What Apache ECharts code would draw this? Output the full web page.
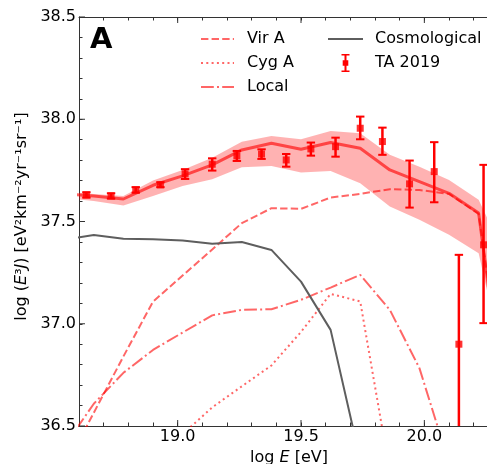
<!DOCTYPE html>
<html>
<head>
<meta charset="utf-8">
<script src="https://cdn.jsdelivr.net/npm/echarts@6/dist/echarts.min.js"></script>
<style>
html,body{margin:0;padding:0;background:#fff;}
#chart{width:487px;height:464px;}
</style>
</head>
<body>
<div id="chart"></div>
<script>
// ---- data ----
const xModel      = [18.54, 18.66, 18.78, 18.90, 19.02, 19.14, 19.26, 19.38, 19.50, 19.62, 19.74, 19.86, 19.98, 20.10, 20.22, 20.34];
const totalModel  = [37.635, 37.625, 37.610, 37.677, 37.723, 37.777, 37.850, 37.883, 37.853, 37.886, 37.858, 37.752, 37.695, 37.638, 37.541, 36.45];
const bandUpper   = [37.645, 37.635, 37.625, 37.700, 37.752, 37.812, 37.890, 37.918, 37.902, 37.943, 37.931, 37.826, 37.768, 37.703, 37.606, 37.30];
const bandLower   = [37.615, 37.600, 37.578, 37.625, 37.674, 37.706, 37.765, 37.772, 37.739, 37.747, 37.687, 37.573, 37.508, 37.435, 37.345, 36.70];
const virA        = [36.29, 36.565, 36.840, 37.108, 37.236, 37.363, 37.492, 37.565, 37.562, 37.617, 37.635, 37.658, 37.654, 37.635, 37.537, 36.50];
const cygA        = [null, null, null, null, 36.46, 36.591, 36.694, 36.796, 36.960, 37.146, 37.109, 36.276, null, null, null, null];
const localSrc    = [36.40, 36.609, 36.760, 36.872, 36.957, 37.041, 37.068, 37.071, 37.117, 37.177, 37.239, 37.068, 36.783, 36.318, null, null];
const cosmo       = [37.412, 37.434, 37.416, 37.413, 37.407, 37.391, 37.400, 37.361, 37.206, 36.970, 36.336, null, null, null, null, null];

const taX    = [18.63, 18.73, 18.83, 18.93, 19.03, 19.14, 19.24, 19.34, 19.44, 19.54, 19.64, 19.74, 19.83, 19.94, 20.04, 20.14, 20.24];
const taY    = [37.630, 37.625, 37.654, 37.679, 37.733, 37.780, 37.821, 37.830, 37.801, 37.855, 37.866, 37.956, 37.891, 37.684, 37.744, 36.900, 37.386];
const taLow  = [37.617, 37.612, 37.641, 37.668, 37.708, 37.749, 37.796, 37.806, 37.768, 37.822, 37.817, 37.902, 37.826, 37.568, 37.594, 36.460, 37.003];
const taHigh = [37.643, 37.638, 37.668, 37.692, 37.756, 37.809, 37.845, 37.853, 37.830, 37.886, 37.910, 38.013, 37.959, 37.798, 37.888, 37.337, 37.777];

const xMajorTicks = [19.0, 19.5, 20.0];
const yMajorTicks = [36.5, 37.0, 37.5, 38.0, 38.5];

const xMin = 18.6, xMax = 20.258, yMin = 36.5, yMax = 38.5;
const FONT = 'DejaVu Sans';

function pairs(xs, ys) {
  const out = [];
  for (let i = 0; i < xs.length; i++) if (ys[i] !== null) out.push([xs[i], ys[i]]);
  return out;
}
function isMajor(v) { return Math.abs(v * 2 - Math.round(v * 2)) < 1e-6; }

const chart = echarts.init(document.getElementById('chart'), null, {renderer: 'canvas'});

const axisLine = {show: true, lineStyle: {color: '#333', width: 1}};
const minorTick = {show: true, inside: true, length: 3.5, lineStyle: {color: '#333', width: 1}};
const taIcon = 'path://M0,0h8v1.6h-8z M3,0h2v18h-2z M0,16.4h8v1.6h-8z M1.2,6.2h5.6v5.6h-5.6z';

const option = {
  animation: false,
  backgroundColor: '#fff',
  textStyle: {fontFamily: FONT},
  grid: {left: 79, right: -1, top: 17, bottom: 38, containLabel: false, outerBoundsMode: 'none'},
  xAxis: [{
    type: 'value', min: xMin, max: xMax, interval: 0.1, position: 'bottom',
    axisLine: axisLine, axisTick: minorTick, splitLine: {show: false},
    axisLabel: {margin: 3, fontSize: 16, color: '#000', fontFamily: FONT,
      showMaxLabel: false,
      formatter: v => isMajor(v) && v > 18.9 && v < 20.2 ? v.toFixed(1) : ''},
    name: '{n|log }{i|E}{n| [eV]}', nameLocation: 'middle', nameGap: 18,
    nameTextStyle: {padding: [0, 0, 0, 11], rich: {
      n: {fontSize: 16, fontFamily: FONT, color: '#000'},
      i: {fontSize: 16, fontFamily: FONT, fontStyle: 'italic', color: '#000'}}}
  }, {
    type: 'value', min: xMin, max: xMax, interval: 0.1, position: 'top',
    axisLine: axisLine, axisTick: minorTick, splitLine: {show: false},
    axisLabel: {show: false}
  }],
  yAxis: [{
    type: 'value', min: yMin, max: yMax, interval: 0.1, position: 'left',
    axisLine: axisLine, axisTick: minorTick, splitLine: {show: false},
    axisLabel: {margin: 3, fontSize: 16, color: '#000', fontFamily: FONT,
      formatter: v => isMajor(v) ? v.toFixed(1) : ''},
    name: '{n|log (}{i|E}{n|³}{i|J}{n|) [eV²km⁻²yr⁻¹sr⁻¹]}', nameLocation: 'middle', nameGap: 31,
    nameTextStyle: {padding: [0, 0, 0, 10], rich: {
      n: {fontSize: 16, fontFamily: FONT, color: '#000'},
      i: {fontSize: 16, fontFamily: FONT, fontStyle: 'italic', color: '#000'}}}
  }],
  legend: [{
    data: ['Vir A', 'Cyg A', 'Local'],
    orient: 'vertical', left: 200, top: 30, padding: 0,
    itemWidth: 33, itemHeight: 18, itemGap: 6,
    itemStyle: {opacity: 0},
    textStyle: {fontSize: 16, fontFamily: FONT, color: '#000', lineHeight: 18, padding: [0, 0, 0, 8]},
    selectedMode: false
  }, {
    data: ['Cosmological', {name: 'TA 2019', icon: taIcon, itemStyle: {opacity: 1, color: '#ff0000'}}],
    orient: 'vertical', left: 327, top: 30, padding: 0,
    itemWidth: 35, itemHeight: 18, itemGap: 6,
    itemStyle: {opacity: 0},
    textStyle: {fontSize: 16, fontFamily: FONT, color: '#000', lineHeight: 18, padding: [0, 0, 0, 7]},
    selectedMode: false
  }],
  graphic: [{
    type: 'text', left: 90, top: 26,
    style: {text: 'A', font: 'bold 29px "DejaVu Sans"', fill: '#000'}
  }],
  series: [
    {
      name: 'band', type: 'custom', clip: true, silent: true, z: 1,
      data: xModel.map((x, i) => [x, bandLower[i], bandUpper[i]]),
      encode: {x: 0, y: [1, 2]},
      renderItem: function (params, api) {
        if (params.dataIndex !== 0) return null;
        const pts = [];
        for (let i = 0; i < xModel.length; i++) pts.push(api.coord([xModel[i], bandUpper[i]]));
        for (let i = xModel.length - 1; i >= 0; i--) pts.push(api.coord([xModel[i], bandLower[i]]));
        return {type: 'polygon', shape: {points: pts}, style: {fill: 'rgba(255,0,0,0.3)'}};
      }
    },
    {
      name: 'Total', type: 'line', symbol: 'none', clip: true, z: 2,
      data: pairs(xModel, totalModel),
      lineStyle: {color: 'rgba(255,0,0,0.62)', width: 3}
    },
    {
      name: 'Vir A', type: 'line', symbol: 'none', clip: true, z: 3,
      data: pairs(xModel, virA),
      itemStyle: {color: 'rgba(255,0,0,0.6)'},
      lineStyle: {color: 'rgba(255,0,0,0.6)', width: 2, type: [7.4, 3.2]}
    },
    {
      name: 'Cyg A', type: 'line', symbol: 'none', clip: true, z: 3,
      data: pairs(xModel, cygA),
      itemStyle: {color: 'rgba(255,0,0,0.6)'},
      lineStyle: {color: 'rgba(255,0,0,0.6)', width: 2, type: [2, 3.3]}
    },
    {
      name: 'Local', type: 'line', symbol: 'none', clip: true, z: 3,
      data: pairs(xModel, localSrc),
      itemStyle: {color: 'rgba(255,0,0,0.6)'},
      lineStyle: {color: 'rgba(255,0,0,0.6)', width: 2, type: [12.8, 3.2, 2, 3.2]}
    },
    {
      name: 'Cosmological', type: 'line', symbol: 'none', clip: true, z: 3,
      data: pairs(xModel, cosmo),
      itemStyle: {color: '#5e5e5e'},
      lineStyle: {color: '#5e5e5e', width: 2}
    },
    {
      name: 'TA 2019', type: 'custom', clip: true, z: 5,
      itemStyle: {color: '#ff0000'},
      data: taX.map((x, i) => [x, taLow[i], taHigh[i]]),
      encode: {x: 0, y: [1, 2]},
      renderItem: function (params, api) {
        const x = api.value(0);
        const lo = api.coord([x, api.value(1)]);
        const hi = api.coord([x, api.value(2)]);
        const w = 4.2;
        const st = {stroke: '#ff0000', lineWidth: 2.5};
        const cp = {stroke: '#ff0000', lineWidth: 2};
        return {type: 'group', children: [
          {type: 'line', shape: {x1: lo[0], y1: lo[1], x2: hi[0], y2: hi[1]}, style: st},
          {type: 'line', shape: {x1: lo[0] - w, y1: lo[1], x2: lo[0] + w, y2: lo[1]}, style: cp},
          {type: 'line', shape: {x1: hi[0] - w, y1: hi[1], x2: hi[0] + w, y2: hi[1]}, style: cp}
        ]};
      }
    },
    {
      name: 'TA 2019', type: 'scatter', symbol: 'rect', symbolSize: 7, clip: true, z: 6,
      itemStyle: {color: '#ff0000'},
      data: pairs(taX, taY)
    },
    {
      name: 'xMajorTicks', type: 'custom', silent: true, z: 10, clip: false,
      data: xMajorTicks.map(v => [v, yMin]),
      renderItem: function (params, api) {
        const cs = params.coordSys;
        const px = api.coord([api.value(0), yMin])[0];
        const st = {stroke: '#333', lineWidth: 1};
        return {type: 'group', children: [
          {type: 'line', shape: {x1: px, y1: cs.y + cs.height, x2: px, y2: cs.y + cs.height - 6}, style: st},
          {type: 'line', shape: {x1: px, y1: cs.y, x2: px, y2: cs.y + 6}, style: st}
        ]};
      }
    },
    {
      name: 'yMajorTicks', type: 'custom', silent: true, z: 10, clip: false,
      data: yMajorTicks.map(v => [xMin, v]),
      renderItem: function (params, api) {
        const cs = params.coordSys;
        const py = api.coord([xMin, api.value(1)])[1];
        const st = {stroke: '#333', lineWidth: 1};
        return {type: 'line', shape: {x1: cs.x, y1: py, x2: cs.x + 6, y2: py}, style: st};
      }
    }
  ]
};
chart.setOption(option);
</script>
</body>
</html>
